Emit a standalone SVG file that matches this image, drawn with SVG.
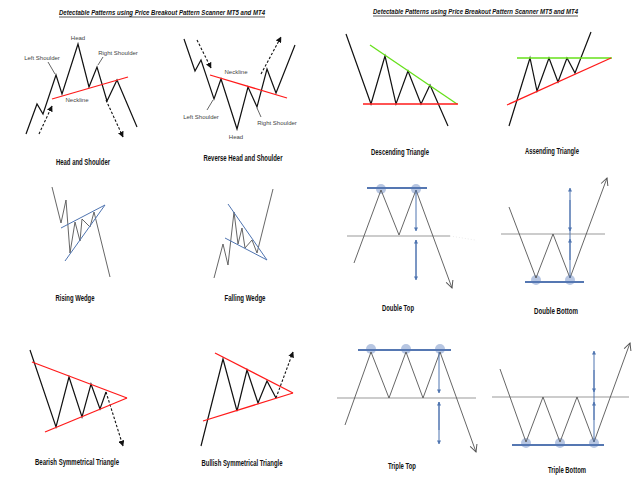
<svg xmlns="http://www.w3.org/2000/svg" width="640" height="480" viewBox="0 0 640 480">
<defs>
<style>
.bk{fill:none;stroke:#111;stroke-width:1.2;stroke-linejoin:miter}
.gy{fill:none;stroke:#555;stroke-width:0.9}
.nk{fill:none;stroke:#999;stroke-width:1.1}
.rd{fill:none;stroke:#ff1a1a;stroke-width:1.3}
.gn{fill:none;stroke:#66e01a;stroke-width:1.3}
.bl{fill:none;stroke:#4f74b0;stroke-width:1}
.blt{fill:none;stroke:#5577b2;stroke-width:2}
.ds{fill:none;stroke:#111;stroke-width:1.1;stroke-dasharray:2.5 1.8}
.ci{fill:#9fb3d8;fill-opacity:0.75;stroke:none}
.cap{font-family:"Liberation Sans",Arial,sans-serif;font-weight:bold;font-size:8.5px;fill:#111;text-anchor:middle}
.lab{font-family:"Liberation Sans",Arial,sans-serif;font-size:6px;fill:#444;text-anchor:middle}
.ttl{font-family:"Liberation Sans",Arial,sans-serif;font-weight:bold;font-style:italic;font-size:7.5px;fill:#111;text-anchor:middle}
</style>
<marker id="ah" viewBox="0 0 10 10" refX="9" refY="5" markerWidth="6" markerHeight="6" markerUnits="userSpaceOnUse" orient="auto"><path d="M0,0 L10,5 L0,10 z" fill="#111"/></marker>
<marker id="ov" viewBox="0 0 10 10" refX="9" refY="5" markerWidth="9" markerHeight="9" markerUnits="userSpaceOnUse" orient="auto"><path d="M1,1 L9,5 L1,9" fill="none" stroke="#555" stroke-width="1.1"/></marker>
<marker id="ba" viewBox="0 0 10 10" refX="9" refY="5" markerWidth="4" markerHeight="4" markerUnits="userSpaceOnUse" orient="auto"><path d="M0,0 L10,5 L0,10 z" fill="#4f74b0"/></marker>
</defs>
<rect width="640" height="480" fill="#fff"/>

<g id="titles">
<text class="ttl" x="162" y="15" textLength="206" lengthAdjust="spacingAndGlyphs">Detectable Patterns using Price Breakout Pattern Scanner MT5 and MT4</text>
<line x1="59" y1="17" x2="265" y2="17" stroke="#111" stroke-width="0.7"/>
<text class="ttl" x="475.5" y="14" textLength="205" lengthAdjust="spacingAndGlyphs">Detectable Patterns using Price Breakout Pattern Scanner MT5 and MT4</text>
<line x1="373" y1="16" x2="578" y2="16" stroke="#111" stroke-width="0.7"/>
</g>

<g id="head-and-shoulder">
<polyline class="bk" points="26,134 37,104 43,114 56,75 62,94 78,44 89,87 97,67 107,101 117,80 137,127"/>
<line class="rd" x1="52" y1="99" x2="128" y2="77"/>
<line class="ds" x1="39" y1="134" x2="52" y2="106" marker-end="url(#ah)"/>
<line class="ds" x1="106" y1="100" x2="123" y2="137" marker-end="url(#ah)"/>
<line class="gy" x1="48" y1="62" x2="55" y2="74"/>
<line class="gy" x1="103" y1="57" x2="98" y2="65"/>
<text class="lab" x="78" y="40">Head</text>
<text class="lab" x="42" y="60">Left Shoulder</text>
<text class="lab" x="118" y="55">Right Shoulder</text>
<text class="lab" x="77" y="102">Neckline</text>
<text class="cap" x="83" y="165" textLength="54" lengthAdjust="spacingAndGlyphs">Head and Shoulder</text>
</g>

<g id="reverse-head-and-shoulder">
<polyline class="bk" points="184,39 195,71 201,60 214,99 221,79 237,129 248,87 257,107 267,69 276,93 295,45"/>
<line class="rd" x1="210" y1="75" x2="287" y2="98"/>
<line class="ds" x1="197" y1="40" x2="211" y2="68" marker-end="url(#ah)"/>
<line class="ds" x1="261" y1="74" x2="281" y2="37" marker-end="url(#ah)"/>
<line class="gy" x1="207" y1="110" x2="213" y2="100"/>
<line class="gy" x1="261" y1="117" x2="257" y2="108"/>
<text class="lab" x="236" y="74">Neckline</text>
<text class="lab" x="201" y="119">Left Shoulder</text>
<text class="lab" x="236" y="139">Head</text>
<text class="lab" x="277" y="125">Right Shoulder</text>
<text class="cap" x="243" y="161" textLength="79" lengthAdjust="spacingAndGlyphs">Reverse Head and Shoulder</text>
</g>

<g id="descending-triangle">
<polyline class="bk" points="346,34 371,104 385,56 396,104 408,71 421,104 430,85 448,126"/>
<line class="gn" x1="370" y1="45" x2="457" y2="104"/>
<line class="rd" x1="363" y1="104" x2="458" y2="104"/>
<text class="cap" x="400" y="155" textLength="58" lengthAdjust="spacingAndGlyphs">Descending Triangle</text>
</g>

<g id="assending-triangle">
<polyline class="bk" points="509,126 530,58 537,91 549,58 558,82 567,58 575,73 591,32"/>
<line class="gn" x1="517" y1="58" x2="612" y2="58"/>
<line class="rd" x1="507" y1="105" x2="611" y2="58"/>
<text class="cap" x="552" y="154" textLength="54" lengthAdjust="spacingAndGlyphs">Assending Triangle</text>
</g>

<g id="rising-wedge">
<polyline class="gy" points="52,187 61,223 66,200 70,253 75,222 80,241 82,219 90,227 94,212 110,277"/>
<line class="bl" x1="61" y1="228" x2="105" y2="205"/>
<line class="bl" x1="65" y1="261" x2="105" y2="205"/>
<text class="cap" x="75" y="301" textLength="39" lengthAdjust="spacingAndGlyphs">Rising Wedge</text>
</g>

<g id="falling-wedge">
<polyline class="gy" points="214,278 223,244 228,265 234,212 238,244 242,228 245,248 252,240 257,253 273,189"/>
<line class="bl" x1="228" y1="204" x2="267" y2="260"/>
<line class="bl" x1="225" y1="238" x2="267" y2="260"/>
<text class="cap" x="245" y="301" textLength="41" lengthAdjust="spacingAndGlyphs">Falling Wedge</text>
</g>

<g id="double-top">
<line class="nk" x1="347" y1="236" x2="450" y2="236"/>
<line x1="450" y1="236" x2="475" y2="240" stroke="#ddd" stroke-width="0.6" stroke-dasharray="1 2"/>
<circle class="ci" cx="381" cy="189" r="5"/>
<circle class="ci" cx="416" cy="189" r="5"/>
<line class="blt" x1="367" y1="188" x2="427" y2="188"/>
<polyline class="gy" points="354,263 381,190 399,235 416,190 452,288" marker-end="url(#ov)"/>
<line class="bl" x1="416" y1="190" x2="416" y2="231" marker-end="url(#ba)"/>
<line class="bl" x1="416" y1="278" x2="416" y2="240" marker-end="url(#ba)"/>
<line class="bl" x1="416" y1="240" x2="416" y2="280" marker-end="url(#ba)"/>
<text class="cap" x="398" y="311" textLength="32" lengthAdjust="spacingAndGlyphs">Double Top</text>
</g>

<g id="double-bottom">
<line class="nk" x1="501" y1="234" x2="605" y2="234"/>
<circle class="ci" cx="536" cy="280" r="5"/>
<circle class="ci" cx="570" cy="280" r="5"/>
<line class="blt" x1="525" y1="282" x2="584" y2="282"/>
<polyline class="gy" points="509,207 536,278 553,234 570,278 607,178" marker-end="url(#ov)"/>
<line class="bl" x1="570" y1="278" x2="570" y2="188" marker-end="url(#ba)"/>
<line class="bl" x1="570" y1="200" x2="570" y2="231" marker-end="url(#ba)"/>
<line class="bl" x1="570" y1="260" x2="570" y2="239" marker-end="url(#ba)"/>
<text class="cap" x="556" y="314" textLength="44" lengthAdjust="spacingAndGlyphs">Double Bottom</text>
</g>

<g id="bearish-symmetrical-triangle">
<polyline class="bk" points="30,350 56,427 69,377 82,417 91,384 100,409 106,392"/>
<line class="ds" x1="106" y1="392" x2="123" y2="446" marker-end="url(#ah)"/>
<line class="rd" x1="32" y1="362" x2="127" y2="398"/>
<line class="rd" x1="45" y1="432" x2="127" y2="398"/>
<text class="cap" x="77" y="465" textLength="84" lengthAdjust="spacingAndGlyphs">Bearish Symmetrical Triangle</text>
</g>

<g id="bullish-symmetrical-triangle">
<polyline class="bk" points="201,446 223,359 237,411 247,370 258,403 267,381 276,398"/>
<line class="ds" x1="276" y1="398" x2="293" y2="352" marker-end="url(#ah)"/>
<line class="rd" x1="215" y1="353" x2="293" y2="393"/>
<line class="rd" x1="203" y1="421" x2="293" y2="393"/>
<text class="cap" x="242" y="466" textLength="81" lengthAdjust="spacingAndGlyphs">Bullish Symmetrical Triangle</text>
</g>

<g id="triple-top">
<line class="nk" x1="337" y1="398" x2="476" y2="398"/>
<circle class="ci" cx="371" cy="349" r="5"/>
<circle class="ci" cx="406" cy="349" r="5"/>
<circle class="ci" cx="440" cy="349" r="5"/>
<line class="blt" x1="358" y1="350" x2="451" y2="350"/>
<polyline class="gy" points="345,425 371,352 389,398 406,352 423,398 440,352 476,452" marker-end="url(#ov)"/>
<line class="bl" x1="439" y1="352" x2="439" y2="393" marker-end="url(#ba)"/>
<line class="bl" x1="439" y1="430" x2="439" y2="402" marker-end="url(#ba)"/>
<line class="bl" x1="439" y1="402" x2="439" y2="444" marker-end="url(#ba)"/>
<text class="cap" x="402" y="469" textLength="28" lengthAdjust="spacingAndGlyphs">Triple Top</text>
</g>

<g id="triple-bottom">
<line class="nk" x1="492" y1="397" x2="629" y2="397"/>
<circle class="ci" cx="526" cy="443" r="5"/>
<circle class="ci" cx="560" cy="443" r="5"/>
<circle class="ci" cx="594" cy="443" r="5"/>
<line class="blt" x1="512" y1="445" x2="604" y2="445"/>
<polyline class="gy" points="500,369 526,442 543,397 560,442 577,397 594,442 630,343" marker-end="url(#ov)"/>
<line class="bl" x1="594" y1="442" x2="594" y2="351" marker-end="url(#ba)"/>
<line class="bl" x1="594" y1="370" x2="594" y2="392" marker-end="url(#ba)"/>
<line class="bl" x1="594" y1="420" x2="594" y2="402" marker-end="url(#ba)"/>
<text class="cap" x="567" y="473" textLength="38" lengthAdjust="spacingAndGlyphs">Triple Bottom</text>
</g>
</svg>
